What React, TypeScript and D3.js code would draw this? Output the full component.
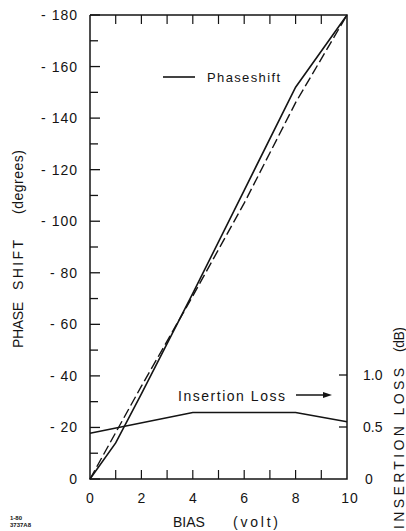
import React from 'react';
import * as d3 from 'd3';

// values
const biasSolid = [0, 1, 2, 4, 6, 8, 10];
const phaseSolid = [0, 14, 33, 72, 112, 152, 180];
const biasDashed = [0, 2, 4, 6, 8, 10];
const phaseDashed = [0, 36, 71, 107, 146, 180];
const lossBias = [0, 4, 8, 10];
const lossDb = [0.44, 0.64, 0.64, 0.55];

const phaseTicks = [0, 20, 40, 60, 80, 100, 120, 140, 160, 180];
const phaseMinor = [10, 30, 50, 70, 90, 110, 130, 150, 170];
const biasTicks = [0, 1, 2, 3, 4, 5, 6, 7, 8, 9, 10];
const biasLabels = [0, 2, 4, 6, 8, 10];
const lossTicks = [0.5, 1.0];
const lossLabels = ['0', '0.5', '1.0'];

const W = 406;
const H = 531;
const ink = '#141414';
const font = '"Liberation Sans", Arial, Helvetica, sans-serif';

const App = () => {
  const x = d3.scaleLinear().domain([0, 10]).range([90, 347]);
  const y = d3.scaleLinear().domain([0, 180]).range([479, 15]);
  const y2 = d3.scaleLinear().domain([0, 1]).range([479, 375]);

  const solid = d3.line<number>()
    .x((_, i) => x(biasSolid[i]))
    .y(d => y(d));
  const dashed = d3.line<number>()
    .x((_, i) => x(biasDashed[i]))
    .y(d => y(d));
  const loss = d3.line<number>()
    .x((_, i) => x(lossBias[i]))
    .y(d => y2(d));

  const [x0, x1] = x.range();
  const [yb, yt] = y.range();

  // rotated text spanning from yBottom up to yTop
  const vtext = (str: string, cx: number, yBottom: number, yTop: number, size = 14) => (
    <text
      key={str}
      transform={`translate(${cx},${yBottom}) rotate(-90)`}
      x={0}
      y={0}
      fontSize={size}
      textLength={yBottom - yTop}
      lengthAdjust="spacing"
      fill={ink}
    >
      {str}
    </text>
  );

  return (
    <svg
      width={W}
      height={H}
      style={{ position: 'absolute', left: 0, top: 0, background: '#fff' }}
      fontFamily={font}
    >
      {/* frame */}
      <path
        d={`M${x0},${yt}V${yb}H${x1}V${yt}H${x0}`}
        fill="none"
        stroke={ink}
        strokeWidth={1.5}
      />

      {/* left ticks */}
      {phaseTicks.map(t => (
        <line key={'pl' + t} x1={x0} x2={x0 + 10} y1={y(t)} y2={y(t)} stroke={ink} strokeWidth={1.3} />
      ))}
      {phaseMinor.map(t => (
        <line key={'pm' + t} x1={x0} x2={x0 + 8} y1={y(t)} y2={y(t)} stroke={ink} strokeWidth={1.3} />
      ))}
      {phaseTicks.map(t => (
        <text
          key={'plt' + t}
          x={78}
          y={y(t)}
          dy="0.36em"
          textAnchor="end"
          fontSize={14}
          letterSpacing={1}
          fill={ink}
        >
          {t === 0 ? '0' : `- ${t}`}
        </text>
      ))}

      {/* top and bottom ticks */}
      {biasTicks.slice(1, -1).map(t => (
        <g key={'b' + t}>
          <line x1={x(t)} x2={x(t)} y1={yb} y2={yb - 9} stroke={ink} strokeWidth={1.2} />
          <line x1={x(t)} x2={x(t)} y1={yt} y2={yt + 9} stroke={ink} strokeWidth={1.2} />
        </g>
      ))}
      {biasLabels.map(t => (
        <text
          key={'bl' + t}
          x={x(t) + (t === 10 ? 3 : 0)}
          y={503}
          textAnchor="middle"
          fontSize={14}
          letterSpacing={t === 10 ? 1 : 0}
          fill={ink}
        >
          {t}
        </text>
      ))}

      {/* right axis ticks */}
      {lossTicks.map(t => (
        <line key={'r' + t} x1={x1} x2={x1 - 8} y1={y2(t)} y2={y2(t)} stroke={ink} strokeWidth={1.3} />
      ))}
      {[0, 0.5, 1.0].map((t, i) => (
        <text
          key={'rl' + t}
          x={t === 0 ? 365 : 363}
          y={y2(t)}
          dy="0.36em"
          fontSize={14}
          fill={ink}
        >
          {lossLabels[i]}
        </text>
      ))}

      {/* data */}
      <path d={dashed(phaseDashed) ?? ''} fill="none" stroke={ink} strokeWidth={1.4} strokeDasharray="10 4" />
      <path d={solid(phaseSolid) ?? ''} fill="none" stroke={ink} strokeWidth={1.6} />
      <path d={loss(lossDb) ?? ''} fill="none" stroke={ink} strokeWidth={1.6} />

      {/* annotations */}
      <line x1={163} x2={195} y1={77} y2={77} stroke={ink} strokeWidth={1.6} />
      <text x={207} y={82} fontSize={13} textLength={73} lengthAdjust="spacing" fill={ink}>
        Phaseshift
      </text>
      <text x={178} y={401} fontSize={14} textLength={107} lengthAdjust="spacing" fill={ink}>
        Insertion Loss
      </text>
      <line x1={296} x2={325} y1={395} y2={395} stroke={ink} strokeWidth={1.5} />
      <path d="M323,392L332,395L323,398Z" fill={ink} />

      {/* axis titles */}
      <text x={173} y={527} fontSize={14} fill={ink}>BIAS</text>
      <text x={233} y={527} fontSize={14} textLength={45} lengthAdjust="spacing" fill={ink}>(volt)</text>
      {vtext('PHASE', 23, 348, 302)}
      {vtext('SHIFT', 23, 290, 240)}
      {vtext('(degrees)', 23, 214, 150)}
      {vtext('INSERTION LOSS', 404, 529, 368)}
      {vtext('(dB)', 404, 352, 327)}

      {/* figure number */}
      <text x={10} y={520} fontSize={6} fontWeight="bold" fill={ink}>1-80</text>
      <text x={10} y={527} fontSize={6} fontWeight="bold" fill={ink}>3737A8</text>
    </svg>
  );
};

export default App;
